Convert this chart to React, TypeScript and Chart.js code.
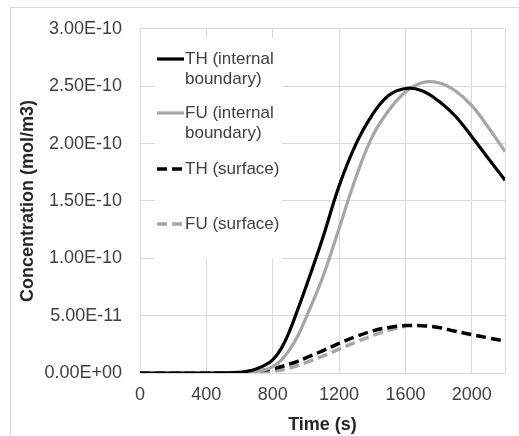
import React, { useEffect, useRef } from "react";
import { Chart, registerables } from "chart.js";

Chart.register(...registerables);

// ---- data ----
const timeS = [0, 100, 200, 300, 400, 500, 600, 650, 700, 750, 800, 850, 900, 950, 1000, 1100, 1200, 1300, 1400, 1500, 1600, 1700, 1800, 1900, 2000, 2100, 2200];

const thInternal = [0, 0, 0, 0, 0, 0.001e-10, 0.006e-10, 0.016e-10, 0.035e-10, 0.066e-10, 0.115e-10, 0.21e-10, 0.36e-10, 0.55e-10, 0.75e-10, 1.17e-10, 1.63e-10, 1.99e-10, 2.25e-10, 2.42e-10, 2.48e-10, 2.46e-10, 2.37e-10, 2.24e-10, 2.06e-10, 1.87e-10, 1.68e-10];

const fuInternal = [0, 0, 0, 0, 0, 0, 0.002e-10, 0.006e-10, 0.013e-10, 0.027e-10, 0.055e-10, 0.11e-10, 0.2e-10, 0.32e-10, 0.48e-10, 0.83e-10, 1.26e-10, 1.7e-10, 2.06e-10, 2.29e-10, 2.45e-10, 2.53e-10, 2.53e-10, 2.46e-10, 2.33e-10, 2.14e-10, 1.93e-10];

const thSurface = [0, 0, 0, 0, 0, 0, 0.02e-11, 0.07e-11, 0.15e-11, 0.25e-11, 0.38e-11, 0.55e-11, 0.77e-11, 1.02e-11, 1.31e-11, 1.93e-11, 2.58e-11, 3.17e-11, 3.66e-11, 3.97e-11, 4.13e-11, 4.12e-11, 3.96e-11, 3.64e-11, 3.35e-11, 3.06e-11, 2.78e-11];

const fuSurface = [0, 0, 0, 0, 0, 0, 0, 0.01e-11, 0.03e-11, 0.07e-11, 0.14e-11, 0.26e-11, 0.43e-11, 0.65e-11, 0.9e-11, 1.46e-11, 2.08e-11, 2.69e-11, 3.25e-11, 3.75e-11, 4.08e-11, null, null, null, null, null, null];

const seriesLabels = ["TH (internal\nboundary)", "FU (internal\nboundary)", "TH (surface)", "FU (surface)"];

const xTickValues = [0, 400, 800, 1200, 1600, 2000, 2200];
const xTickLabels = ["0", "400", "800", "1200", "1600", "2000", ""];
const yTickValues = [0, 5e-11, 1e-10, 1.5e-10, 2e-10, 2.5e-10, 3e-10];
const yTickLabels = ["0.00E+00", "5.00E-11", "1.00E-10", "1.50E-10", "2.00E-10", "2.50E-10", "3.00E-10"];

const FONT = "'Liberation Sans', Arial, sans-serif";
const BLACK = "#000000";
const GRAY = "#a6a6a6";
const GRID = "#d9d9d9";
const TEXT = "#404040";

const toPoints = (ys: (number | null)[]) => timeS.map((t, i) => ({ x: t, y: ys[i] }));

const frame = {
  id: "frame",
  beforeDraw(chart: any) {
    const ctx = chart.ctx;
    ctx.save();
    ctx.fillStyle = "#ffffff";
    ctx.fillRect(0, 0, chart.width, chart.height);
    ctx.strokeStyle = GRID;
    ctx.lineWidth = 1;
    ctx.strokeRect(10.5, 7.5, 700, 700);
    ctx.restore();
  },
};

const innerLegend = {
  id: "innerLegend",
  afterDraw(chart: any) {
    const ctx = chart.ctx;
    ctx.save();
    ctx.fillStyle = "#ffffff";
    ctx.fillRect(155, 38, 127, 221);
    const rows = [59, 113, 169, 224];
    chart.data.datasets.forEach((ds: any, i: number) => {
      const y = rows[i];
      ctx.beginPath();
      ctx.strokeStyle = ds.borderColor;
      ctx.lineWidth = ds.borderWidth;
      ctx.setLineDash(ds.borderDash || []);
      ctx.lineCap = "butt";
      ctx.moveTo(157, y);
      ctx.lineTo(184, y);
      ctx.stroke();
      ctx.setLineDash([]);
      ctx.fillStyle = TEXT;
      ctx.font = `17px ${FONT}`;
      ctx.textAlign = "left";
      ctx.textBaseline = "middle";
      String(ds.label)
        .split("\n")
        .forEach((line: string, j: number) => ctx.fillText(line, 185, y + j * 20.5));
    });
    ctx.restore();
  },
};

export default function App() {
  const ref = useRef<HTMLCanvasElement | null>(null);

  useEffect(() => {
    if (!ref.current) return;
    const chart = new Chart(ref.current, {
      type: "line",
      data: {
        datasets: [
          { label: seriesLabels[0], data: toPoints(thInternal), borderColor: BLACK, borderWidth: 3.2, borderDash: [] },
          { label: seriesLabels[1], data: toPoints(fuInternal), borderColor: GRAY, borderWidth: 3.2, borderDash: [] },
          { label: seriesLabels[2], data: toPoints(thSurface), borderColor: BLACK, borderWidth: 3.5, borderDash: [10, 5] },
          { label: seriesLabels[3], data: toPoints(fuSurface), borderColor: GRAY, borderWidth: 3.5, borderDash: [10, 5] },
        ].map((d) => ({
          ...d,
          pointRadius: 0,
          fill: false,
          tension: 0.4,
          spanGaps: false,
        })),
      },
      options: {
        animation: false,
        responsive: false,
        layout: { padding: { left: 0, top: 20, right: 14, bottom: 0 } },
        plugins: { legend: { display: false }, tooltip: { enabled: false } },
        scales: {
          x: {
            type: "linear",
            min: 0,
            max: 2200,
            afterBuildTicks: (s: any) => {
              s.ticks = xTickValues.map((v) => ({ value: v }));
            },
            afterFit: (s: any) => {
              s.height = 63;
            },
            grid: { color: GRID, drawTicks: false, lineWidth: 1 },
            border: { color: GRID },
            ticks: {
              padding: 11,
              color: TEXT,
              font: { family: FONT, size: 18 },
              maxRotation: 0,
              autoSkip: false,
              callback: (_v: any, i: number) => xTickLabels[i],
            },
            title: {
              display: true,
              text: "Time (s)",
              color: "#262626",
              font: { family: FONT, size: 18, weight: "bold" },
              padding: { top: 5, bottom: 0 },
            },
          },
          y: {
            type: "linear",
            min: 0,
            max: 3e-10,
            afterBuildTicks: (s: any) => {
              s.ticks = yTickValues.map((v) => ({ value: v }));
            },
            afterFit: (s: any) => {
              s.width = 140;
            },
            grid: { color: GRID, drawTicks: false, lineWidth: 1 },
            border: { color: GRID },
            ticks: {
              padding: 18,
              color: TEXT,
              font: { family: FONT, size: 18 },
              autoSkip: false,
              callback: (_v: any, i: number) => yTickLabels[i],
            },
            title: {
              display: true,
              text: "Concentration (mol/m3)",
              color: "#262626",
              font: { family: FONT, size: 18, weight: "bold" },
              padding: { top: 17, bottom: 0 },
            },
          },
        },
      },
      plugins: [frame, innerLegend],
    });
    return () => chart.destroy();
  }, []);

  return (
    <div style={{ position: "fixed", left: 0, top: 0, width: 519, height: 436, background: "#fff" }}>
      <canvas ref={ref} width={519} height={436} style={{ display: "block" }} />
    </div>
  );
}
